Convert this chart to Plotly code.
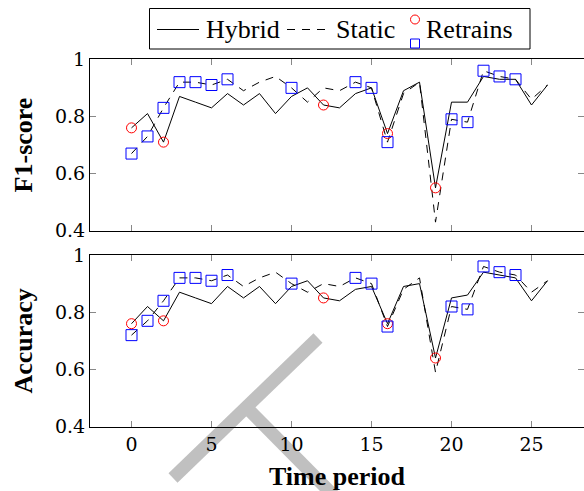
import plotly.graph_objects as go

# ---------------- data ----------------
time_period = list(range(27))
f1_hybrid = [0.76, 0.81, 0.71, 0.87, 0.85, 0.83, 0.88, 0.84, 0.88, 0.81, 0.87, 0.90, 0.84, 0.83,
             0.88, 0.90, 0.74, 0.89, 0.92, 0.55, 0.85, 0.85, 0.94, 0.93, 0.93, 0.84, 0.91]
f1_static = [0.67, 0.73, 0.83, 0.92, 0.92, 0.91, 0.93, 0.89, 0.92, 0.94, 0.90, 0.85, 0.90, 0.89,
             0.92, 0.90, 0.71, 0.88, 0.92, 0.43, 0.79, 0.78, 0.96, 0.94, 0.93, 0.86, 0.91]
acc_hybrid = [0.76, 0.82, 0.77, 0.87, 0.85, 0.83, 0.89, 0.85, 0.89, 0.83, 0.89, 0.91, 0.85, 0.84,
              0.88, 0.89, 0.76, 0.89, 0.90, 0.64, 0.85, 0.86, 0.94, 0.93, 0.92, 0.84, 0.91]
acc_static = [0.72, 0.77, 0.84, 0.92, 0.92, 0.91, 0.93, 0.89, 0.92, 0.94, 0.90, 0.87, 0.90, 0.89,
              0.92, 0.90, 0.75, 0.88, 0.92, 0.59, 0.82, 0.81, 0.96, 0.94, 0.93, 0.87, 0.91]
hybrid_retrain_idx = [0, 2, 12, 16, 19]
static_retrain_idx = [0, 1, 2, 3, 4, 5, 6, 10, 14, 15, 16, 20, 21, 22, 23, 24]
legend_labels = ["Hybrid", "Static", "Retrains"]

y_ticks = [0.4, 0.6, 0.8, 1.0]
y_ticktext = ["0.4", "0.6", "0.8", "1"]
x_ticks = [0, 5, 10, 15, 20, 25]

TICKFONT = "DejaVu Serif"
LEGFONT = "Liberation Serif"
TITLEFONT = "Liberation Serif, DejaVu Serif, serif"
W, H = 584, 491

fig = go.Figure()

panels = [("x", "y", f1_hybrid, f1_static), ("x2", "y2", acc_hybrid, acc_static)]
for xa, ya, hyb, sta in panels:
    fig.add_trace(go.Scatter(x=time_period, y=hyb, mode="lines", name="Hybrid",
                             line=dict(color="black", width=1), showlegend=False,
                             xaxis=xa, yaxis=ya))
    fig.add_trace(go.Scatter(x=time_period, y=sta, mode="lines", name="Static",
                             line=dict(color="black", width=1, dash="8px,7px"), showlegend=False,
                             xaxis=xa, yaxis=ya))
    fig.add_trace(go.Scatter(x=[time_period[i] for i in hybrid_retrain_idx],
                             y=[hyb[i] for i in hybrid_retrain_idx],
                             mode="markers", name="Retrains", showlegend=False,
                             marker=dict(symbol="circle-open", size=10, color="red",
                                         line=dict(width=1, color="red")),
                             xaxis=xa, yaxis=ya))
    fig.add_trace(go.Scatter(x=[time_period[i] for i in static_retrain_idx],
                             y=[sta[i] for i in static_retrain_idx],
                             mode="markers", name="Retrains (static)", showlegend=False,
                             marker=dict(symbol="square-open", size=11, color="blue",
                                         line=dict(width=1, color="blue")),
                             xaxis=xa, yaxis=ya))

xdom = [90 / W, 1.0]
top_dom = [1 - 230.7 / H, 1 - 59.3 / H]
bot_dom = [1 - 426.7 / H, 1 - 255.0 / H]
xrange_ = [(90 - 131.5) / 16.0, (584 - 131.5) / 16.0]

axis_common = dict(showline=True, linecolor="black", linewidth=1, ticks="inside",
                   ticklen=6, tickcolor="#888888", tickwidth=1, showgrid=False,
                   zeroline=False, tickfont=dict(family=TICKFONT, size=19, color="black"))

fig.update_layout(
    width=W, height=H, margin=dict(l=0, r=0, t=0, b=0, autoexpand=False),
    paper_bgcolor="white", plot_bgcolor="rgba(0,0,0,0)",
    font=dict(family=TITLEFONT, color="black"),
    showlegend=False,
    xaxis=dict(domain=xdom, range=xrange_, anchor="y", tickvals=x_ticks,
               showticklabels=False, mirror="ticks", **axis_common),
    yaxis=dict(domain=top_dom, range=[0.4, 1.0], anchor="x", tickvals=y_ticks,
               ticktext=y_ticktext, mirror="ticks",
               title=dict(text="<b>F1-score</b>", font=dict(family=TITLEFONT, size=26), standoff=14),
               **axis_common),
    xaxis2=dict(domain=xdom, range=xrange_, anchor="y2", tickvals=x_ticks,
                mirror="ticks",
                title=dict(text="<b>Time period</b>", font=dict(family=TITLEFONT, size=26), standoff=14),
                **axis_common),
    yaxis2=dict(domain=bot_dom, range=[0.4, 1.0], anchor="x2", tickvals=y_ticks,
                ticktext=y_ticktext, mirror="ticks",
                title=dict(text="<b>Accuracy</b>", font=dict(family=TITLEFONT, size=26), standoff=14),
                **axis_common),
)

def px(x):
    return x / W

def py(y):
    return 1 - y / H

# decorative grey watermark seen in the reference image
fig.add_shape(type="line", xref="paper", yref="paper", layer="below",
              x0=px(173), y0=py(478), x1=px(318), y1=py(338),
              line=dict(color="#c0c0c0", width=13))
fig.add_shape(type="line", xref="paper", yref="paper", layer="below",
              x0=px(250), y0=py(411), x1=px(340), y1=py(502),
              line=dict(color="#c0c0c0", width=13))

# ---------------- legend (drawn as a boxed key above the panels) ----------------
fig.add_shape(type="rect", xref="paper", yref="paper", x0=px(149.5), y0=py(49), x1=px(530), y1=py(8.5),
              line=dict(color="black", width=1), fillcolor="white")
fig.add_shape(type="line", xref="paper", yref="paper", x0=px(157), y0=py(29.5), x1=px(199), y1=py(29.5),
              line=dict(color="black", width=1))
fig.add_shape(type="line", xref="paper", yref="paper", x0=px(287), y0=py(29.5), x1=px(326), y1=py(29.5),
              line=dict(color="black", width=1, dash="8px,7px"))
fig.add_shape(type="circle", xref="paper", yref="paper", x0=px(410.5), y0=py(24), x1=px(419.5), y1=py(15),
              line=dict(color="red", width=1))
fig.add_shape(type="rect", xref="paper", yref="paper", x0=px(410.5), y0=py(48), x1=px(419.5), y1=py(39),
              line=dict(color="blue", width=1))
for label, xl in zip(legend_labels, [204, 334, 424]):
    fig.add_annotation(text=label, xref="paper", yref="paper", x=px(xl), y=py(29),
                       xanchor="left", yanchor="middle", showarrow=False,
                       font=dict(family=LEGFONT, size=26, color="black"))

fig.write_html("out.html")
